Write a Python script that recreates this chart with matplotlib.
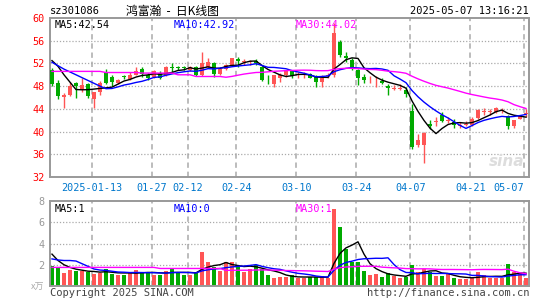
import numpy as np
import pandas as pd
import matplotlib
matplotlib.use('Agg')
import matplotlib.pyplot as plt

# Daily candles, 2025-01-02 .. 2025-05-07 (80 trading days)
opens = [50.8, 48.6, 46.1, 46.5, 48.5, 47.3, 48.4, 45.7, 46.9, 50.5,
         49.6, 48.6, 49.7, 49.3, 50.0, 51.0, 50.0, 49.6, 50.4, 49.9,
         51.3, 51.3, 51.3, 50.8, 51.3, 49.9, 51.4, 52.1, 50.2, 51.1,
         51.8, 52.8, 52.2, 52.2, 52.4, 51.4, 49.1, 48.4, 49.4, 49.9,
         50.6, 49.9, 49.9, 50.1, 49.7, 48.7, 49.8, 50.0, 55.8, 53.3,
         52.6, 50.8, 49.6, 49.0, 49.0, 48.9, 48.0, 47.5, 47.5, 47.3,
         43.7, 37.6, 37.6, 41.4, 41.7, 42.9, 41.9, 41.6, 40.9, 41.1,
         41.1, 42.4, 43.5, 43.5, 43.5, 43.6, 42.7, 40.9, 42.3, 43.1]
highs = [51.2, 49.1, 46.8, 48.7, 48.8, 49.5, 48.6, 47.0, 48.9, 51.0,
         49.9, 49.3, 49.9, 50.5, 51.4, 51.4, 50.4, 50.9, 50.7, 51.6,
         52.0, 51.6, 51.6, 51.6, 51.5, 54.0, 52.95, 52.3, 51.4, 51.9,
         53.0, 53.2, 52.7, 52.6, 52.7, 51.6, 49.9, 49.9, 50.3, 50.8,
         50.8, 50.5, 50.5, 50.3, 49.9, 50.0, 50.3, 59.1, 56.1, 54.1,
         52.9, 51.1, 50.2, 49.8, 49.8, 49.4, 48.4, 48.2, 48.3, 47.9,
         44.8, 39.6, 39.9, 42.0, 42.6, 43.5, 42.6, 42.3, 41.6, 41.8,
         42.5, 44.0, 44.2, 44.0, 44.4, 44.1, 42.9, 42.1, 43.0, 44.0]
lows = [48.0, 45.8, 44.1, 46.2, 45.9, 47.0, 45.9, 44.1, 46.5, 48.3,
        48.1, 48.4, 49.2, 49.0, 49.9, 49.6, 49.1, 49.4, 49.3, 49.7,
        50.5, 50.8, 50.8, 50.6, 49.8, 49.8, 51.2, 49.6, 50.0, 50.8,
        51.6, 51.3, 51.8, 51.7, 51.7, 48.9, 48.4, 47.8, 48.8, 49.6,
        49.5, 49.4, 49.4, 49.4, 47.9, 47.9, 49.4, 49.6, 53.2, 52.3,
        50.9, 48.2, 48.5, 48.6, 47.9, 48.3, 46.4, 47.3, 47.3, 46.1,
        37.0, 37.3, 34.5, 40.5, 40.9, 41.7, 41.5, 40.6, 40.7, 40.9,
        40.9, 42.3, 42.9, 42.9, 43.3, 43.3, 40.5, 40.6, 42.2, 42.6]
closes = [48.4, 46.2, 46.4, 48.0, 48.0, 48.2, 46.3, 46.9, 48.6, 48.5,
          48.8, 49.0, 49.6, 50.0, 50.6, 50.2, 49.5, 50.6, 49.5, 51.3,
          51.2, 51.2, 51.2, 51.4, 50.0, 52.1, 52.3, 50.1, 51.1, 51.8,
          52.95, 52.5, 52.3, 52.4, 52.0, 49.0, 49.0, 49.9, 50.0, 50.6,
          49.7, 50.1, 50.0, 49.5, 48.7, 49.5, 50.0, 57.3, 53.5, 53.0,
          51.1, 49.5, 49.1, 49.1, 49.1, 48.5, 47.7, 47.7, 47.7, 46.6,
          37.3, 38.5, 39.7, 40.9, 41.8, 41.8, 42.0, 41.1, 41.2, 41.3,
          42.3, 43.8, 43.6, 43.6, 44.2, 43.7, 40.9, 42.0, 42.8, 43.3]
volumes = [1.90, 1.80, 1.24, 1.55, 1.43, 1.43, 1.33, 1.10, 1.24, 1.62,
           1.17, 1.05, 1.05, 1.24, 1.52, 1.33, 1.24, 1.05, 1.05, 1.43,
           1.62, 1.24, 1.05, 1.05, 1.24, 3.24, 2.29, 1.81, 1.43, 2.29,
           2.29, 1.81, 1.33, 1.62, 2.00, 1.62, 1.05, 0.79, 0.86, 0.86,
           1.05, 0.73, 0.73, 0.86, 0.86, 0.95, 0.73, 7.24, 5.54, 3.48,
           2.25, 2.29, 1.43, 1.05, 1.15, 0.86, 1.24, 0.90, 0.72, 0.85,
           2.00, 1.35, 1.58, 1.30, 0.95, 0.95, 1.10, 0.72, 0.65, 0.65,
           0.75, 1.33, 1.00, 0.75, 0.75, 0.72, 2.05, 1.30, 1.24, 0.72]

# moving-average values before a full window exists
ma5_head = [52.5, 51.5, 50.0, 48.7]
ma10_head = [52.2, 51.6, 51.0, 50.5, 50.0, 49.5, 49.0, 48.5, 48.0]
ma30_head = [50.6] * 9 + [50.4] * 6 + [50.3] * 6 + [50.0] * 3 + [49.7] * 5
vma5_head = [3.0, 2.4, 2.0, 1.75]
vma10_head = [2.55, 2.45, 2.4, 2.4, 2.35, 2.1, 1.85, 1.6, 1.5]
vma30_head = [1.75] * 18 + [1.65] * 11

tick_idx = [7, 17, 23, 31, 41, 51, 60, 70, 79]
tick_labels = ['2025-01-13', '01-27', '02-12', '02-24', '03-10',
               '03-24', '04-07', '04-21', '05-07']

ma_labels = ['MA5:42.54', 'MA10:42.92', 'MA30:44.02']
vma_labels = ['MA5:1', 'MA10:0', 'MA30:1']


def moving_avg(vals, n, head):
    s = pd.Series(vals).rolling(n).mean().to_numpy()
    s[:len(head)] = head
    return s


x = np.arange(len(closes))
o, h, l, c = map(np.array, (opens, highs, lows, closes))
up = c >= o
RED, GREEN = '#ff5555', '#00aa00'
cols = np.where(up, RED, GREEN)
mono = 'DejaVu Sans Mono'

fig = plt.figure(figsize=(5.45, 3.0), dpi=100)
ax1 = fig.add_axes([50 / 545, 123 / 300, 479 / 545, 159 / 300])
ax2 = fig.add_axes([50 / 545, 14 / 300, 479 / 545, 85 / 300])

for ax in (ax1, ax2):
    ax.set_xlim(-0.33, 79.5)
    for s in ax.spines.values():
        s.set_color('#999999')
        s.set_linewidth(1.4)
    for t in tick_idx:
        ax.axvline(t - 0.3, color='#aaaaaa', lw=1.1, ls=(0, (3.5, 2.5)), zorder=0)
    ax.tick_params(length=0, labelsize=7.3)

# price panel
ax1.set_ylim(32, 60)
ax1.set_yticks([32, 36, 40, 44, 48, 52, 56, 60])
for v in [36, 40, 44, 48, 52, 56]:
    ax1.axhline(v, color='#aaaaaa', lw=0.9, ls=(0, (1, 1.5)), zorder=0)
ax1.set_xticks([t - 0.3 for t in tick_idx])
ax1.set_xticklabels(tick_labels, family=mono, color='#0077cc', fontsize=7.3)
ax1.get_xticklabels()[-1].set_horizontalalignment('right')
ax1.tick_params(axis='y', colors='red', pad=4)
ax1.tick_params(axis='x', pad=4)
ax1.set_yticklabels([str(v) for v in [32, 36, 40, 44, 48, 52, 56, 60]],
                    family=mono, fontsize=7.3)

ax1.vlines(x, l, h, colors=cols, lw=1, zorder=2)
body = np.maximum(np.abs(c - o), 0.15)
ax1.bar(x, body, bottom=np.minimum(o, c), width=0.75, color=cols, zorder=3)

ax1.plot(x, moving_avg(closes, 5, ma5_head), color='black', lw=1, zorder=4)
ax1.plot(x, moving_avg(closes, 10, ma10_head), color='#0000ff', lw=1, zorder=4)
ax1.plot(x, moving_avg(closes, 30, ma30_head), color='#ff00ff', lw=1, zorder=4)

ax1.text(0.01, 0.985, ma_labels[0], transform=ax1.transAxes, family=mono,
         fontsize=7.3, color='black', va='top')
ax1.text(0.259, 0.985, ma_labels[1], transform=ax1.transAxes, family=mono,
         fontsize=7.3, color='#0000ff', va='top')
ax1.text(0.512, 0.985, ma_labels[2], transform=ax1.transAxes, family=mono,
         fontsize=7.3, color='#ff00ff', va='top')
ax1.text(0.99, 0.1, 'sina', transform=ax1.transAxes, fontsize=11,
         fontweight='bold', style='italic', color='#dddddd', ha='right',
         va='center', zorder=1)

# volume panel
ax2.set_ylim(0, 8)
ax2.set_yticks([2, 4, 6, 8])
ax2.set_yticklabels(['2', '4', '6', '8'], family=mono, fontsize=7.3)
ax2.tick_params(axis='y', colors='#999999', pad=4)
ax2.set_xticks([])
for v in [2, 4, 6]:
    ax2.axhline(v, color='#aaaaaa', lw=0.9, ls=(0, (1, 1.5)), zorder=0)
ax2.bar(x, volumes, width=0.78, color=cols, zorder=2)
ax2.plot(x, moving_avg(volumes, 5, vma5_head), color='black', lw=1, zorder=4)
ax2.plot(x, moving_avg(volumes, 10, vma10_head), color='#0000ff', lw=1, zorder=4)
ax2.plot(x, moving_avg(volumes, 30, vma30_head), color='#ff00ff', lw=1, zorder=4)

ax2.text(0.01, 0.97, vma_labels[0], transform=ax2.transAxes, family=mono,
         fontsize=7.3, color='black', va='top')
ax2.text(0.259, 0.97, vma_labels[1], transform=ax2.transAxes, family=mono,
         fontsize=7.3, color='#0000ff', va='top')
ax2.text(0.512, 0.97, vma_labels[2], transform=ax2.transAxes, family=mono,
         fontsize=7.3, color='#ff00ff', va='top')

# header / footer
fig.text(50 / 545, 1 - 11 / 300, 'sz301086', family=mono, fontsize=7.5, va='center')
fig.text(172 / 545, 1 - 11 / 300, '鸿富瀚  -  日K线图', family=['Noto Sans CJK SC', 'DejaVu Sans'],
         fontsize=8.5, ha='center', va='center')
fig.text(529 / 545, 1 - 11 / 300, '2025-05-07 13:16:21', family=mono, fontsize=7.5,
         ha='right', va='center')
fig.text(50 / 545, 1 - 293 / 300, 'Copyright 2025 SINA.COM', family=mono, fontsize=7.5,
         color='#444444', va='center')
fig.text(529 / 545, 1 - 293 / 300, 'http://finance.sina.com.cn', family=mono,
         fontsize=7.5, color='#444444', ha='right', va='center')
fig.text(44 / 545, 1 - 287 / 300, 'x万', family=['Noto Sans CJK SC', 'DejaVu Sans'],
         fontsize=6.5, color='#aaaaaa', ha='right', va='center')

fig.savefig('out.png', dpi=100)
